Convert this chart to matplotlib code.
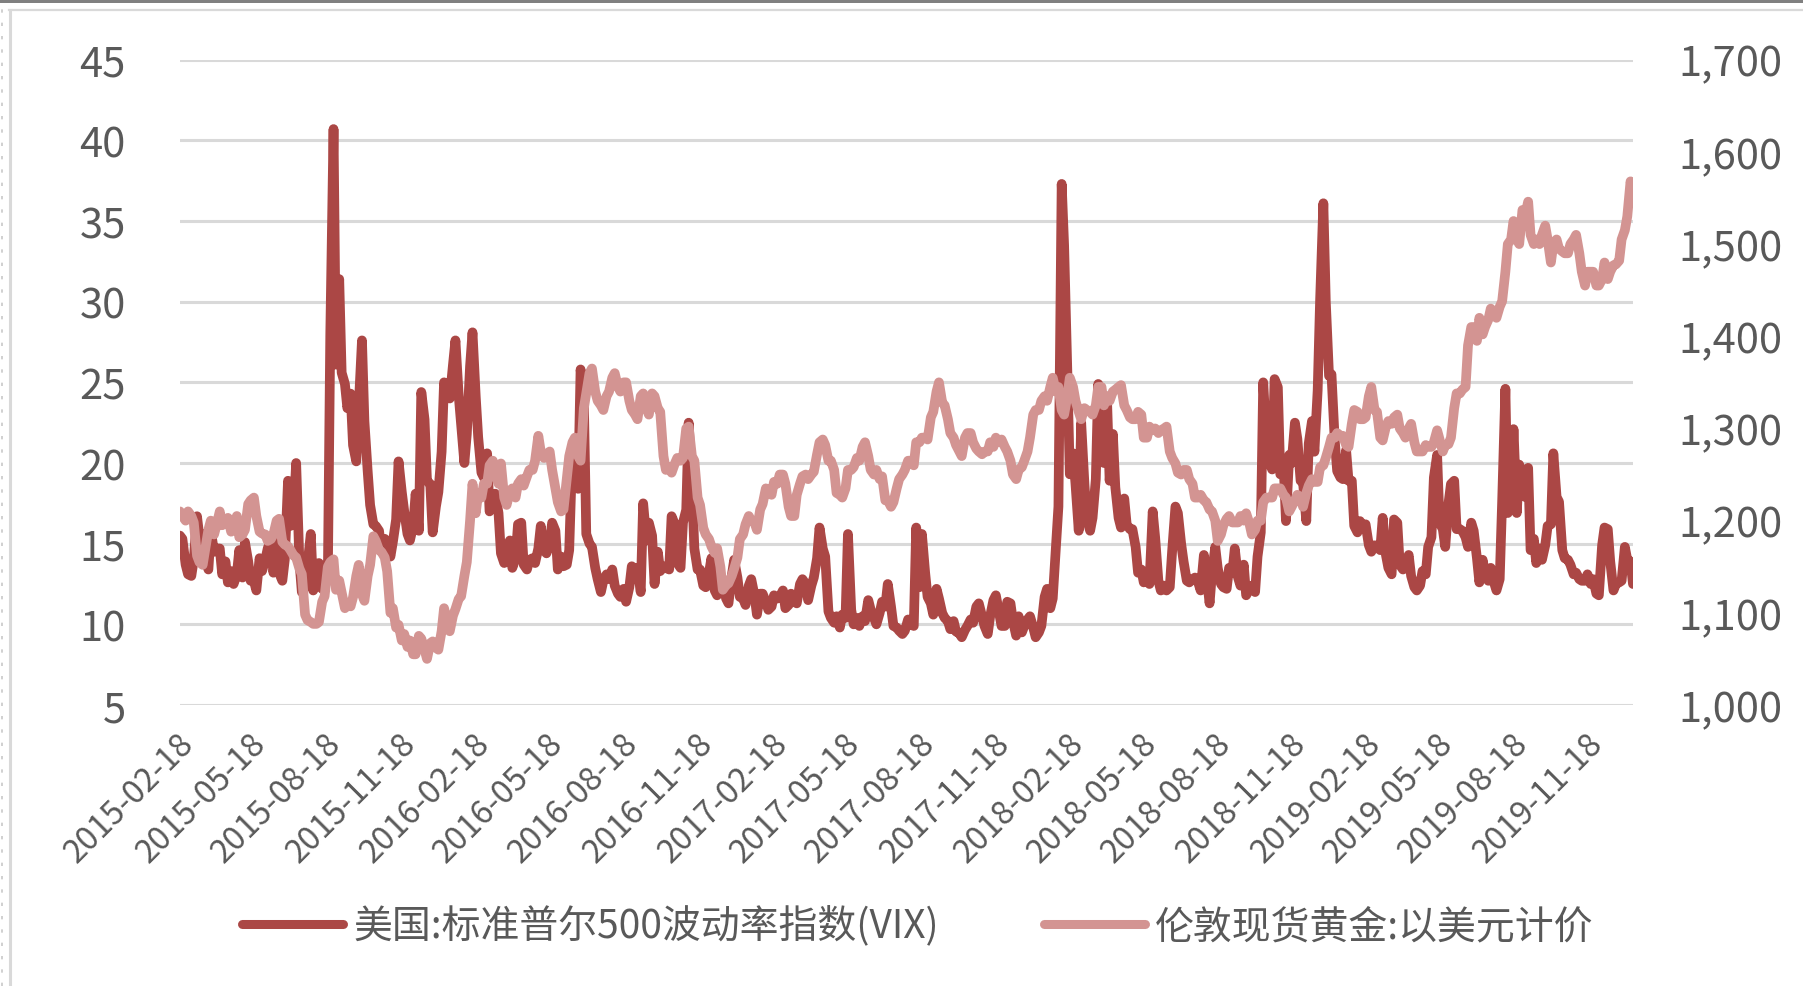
import matplotlib
matplotlib.use("Agg")
import matplotlib.pyplot as plt
from matplotlib.lines import Line2D
from matplotlib.patches import Rectangle
import matplotlib.transforms as mtransforms
import matplotlib.ticker as mticker
import pandas as pd

plt.rcParams['font.family'] = ['Noto Sans CJK SC', 'DejaVu Sans']

# two readings per week (Monday, Thursday), one list per year
vix_2015 = [15.5, 15.3, 13.7, 13.1, 13.0, 14.0, 16.7, 15.4, 15.6, 14.1, 13.4, 15.8, 14.5, 14.7, 14.7, 13.1,
            13.9, 12.6, 13.3, 12.5, 13.1, 14.6, 12.9, 15.1, 13.9, 12.7, 12.7, 12.1, 14.1, 13.3, 14.0, 14.7,
            15.3, 13.2, 15.4, 13.2, 12.7, 14.0, 18.9, 16.1, 17.0, 20.0, 13.9, 12.0, 12.3, 13.7, 15.6, 12.1,
            12.6, 13.8, 12.2, 13.5, 13.0, 28.0, 40.7, 26.1, 31.4, 25.6, 24.9, 23.4, 24.3, 21.1, 20.1, 23.5,
            27.6, 22.6, 19.5, 17.4, 16.2, 16.1, 15.8, 14.5, 15.3, 15.1, 14.2, 15.1, 16.5, 20.1, 18.2, 17.0,
            15.6, 15.2, 16.1, 18.1, 15.8, 24.4, 22.7, 18.9, 18.7, 15.7, 17.3, 18.2]
vix_2016 = [20.7, 25.0, 24.3, 24.0, 26.1, 27.6, 24.2, 22.4, 20.0, 21.8, 26.0, 28.1, 24.1, 21.6, 19.4, 19.1,
            20.6, 17.0, 17.4, 18.1, 16.9, 14.4, 13.8, 14.7, 15.2, 13.5, 14.1, 16.2, 16.3, 13.7, 13.4, 14.0,
            14.1, 13.8, 14.7, 16.1, 14.6, 14.4, 15.0, 16.3, 15.8, 13.4, 14.2, 13.6, 13.7, 14.6, 21.0, 19.4,
            18.4, 25.8, 23.9, 15.6, 15.0, 14.8, 13.5, 12.8, 12.0, 12.7, 13.1, 12.8, 13.4, 12.4, 11.9, 11.7,
            12.2, 11.4, 12.3, 13.6, 13.1, 13.5, 12.0, 17.5, 15.2, 16.3, 15.5, 12.5, 14.5, 13.3, 13.6, 13.5,
            13.4, 16.7, 16.2, 13.8, 13.5, 16.3, 17.1, 22.5, 18.7, 14.7, 13.4, 13.4, 12.4, 12.3, 13.2, 14.1,
            12.1, 11.8, 12.6, 12.8, 11.6, 11.3, 13.0, 14.0]
vix_2017 = [12.9, 11.7, 11.6, 11.2, 12.4, 12.8, 11.8, 10.6, 11.9, 11.9, 11.4, 10.9, 11.1, 11.8, 11.6, 11.7,
            12.1, 11.0, 11.2, 11.9, 11.4, 11.3, 12.5, 12.8, 12.5, 11.5, 12.4, 12.9, 14.1, 16.0, 14.7, 14.2,
            10.8, 10.4, 10.1, 10.5, 9.8, 10.6, 10.4, 15.6, 10.9, 10.0, 10.4, 9.9, 10.5, 10.2, 11.5, 10.9,
            10.4, 10.0, 10.7, 11.4, 11.1, 12.5, 11.1, 9.9, 9.8, 9.6, 9.4, 9.6, 10.3, 10.0, 9.9, 16.0,
            12.3, 15.6, 13.2, 11.7, 11.3, 10.6, 12.2, 11.6, 10.7, 10.4, 10.2, 9.7, 10.2, 9.55, 9.45, 9.2,
            9.65, 9.9, 10.3, 10.1, 11.1, 11.3, 10.5, 9.9, 9.4, 10.5, 11.5, 11.8, 10.7, 9.9, 9.9, 11.4,
            11.3, 10.2, 9.3, 10.5, 9.5, 9.9, 10.3, 10.5]
vix_2018 = [9.8, 9.2, 9.5, 9.9, 11.7, 12.2, 11.0, 11.6, 14.8, 17.3, 37.3, 33.5, 25.6, 19.3, 20.6, 18.7,
            15.8, 22.5, 18.7, 16.5, 15.8, 16.6, 19.0, 24.9, 21.0, 20.0, 23.6, 18.9, 21.8, 18.5, 16.6, 16.0,
            17.8, 16.2, 15.9, 15.9, 14.8, 13.2, 13.4, 12.6, 13.1, 12.5, 17.0, 15.4, 12.7, 12.1, 12.4, 12.1,
            12.3, 14.6, 17.3, 16.9, 15.0, 13.9, 12.7, 12.6, 12.8, 12.9, 12.6, 12.1, 14.3, 13.2, 11.3, 13.2,
            14.8, 13.5, 12.5, 12.3, 12.2, 13.5, 13.2, 14.7, 12.9, 12.4, 13.7, 11.8, 12.2, 12.4, 12.0, 14.2,
            15.7, 25.0, 21.3, 20.1, 19.6, 25.2, 24.7, 19.3, 20.0, 16.4, 20.5, 20.0, 22.5, 21.5, 18.9, 18.8,
            16.4, 21.2, 22.6, 20.7, 24.5, 30.1, 36.1, 30.0, 25.4, 25.5]
vix_2019 = [21.4, 19.5, 19.1, 19.0, 20.8, 18.9, 18.9, 16.1, 15.7, 16.4, 16.0, 16.2, 14.9, 14.5, 14.9, 14.8,
            14.6, 16.6, 14.3, 13.5, 13.1, 16.5, 16.3, 13.7, 13.4, 13.6, 14.3, 13.0, 12.3, 12.1, 12.4, 13.3,
            13.1, 14.8, 15.4, 19.1, 20.5, 16.3, 15.9, 14.8, 17.5, 18.7, 18.9, 15.9, 15.9, 15.8, 15.4, 14.8,
            16.3, 15.8, 14.1, 12.6, 14.0, 13.1, 12.7, 13.5, 12.6, 12.1, 12.8, 17.6, 24.6, 16.9, 17.5, 22.1,
            16.9, 19.9, 19.3, 17.9, 19.7, 14.6, 15.3, 13.8, 14.7, 14.0, 14.9, 16.1, 16.2, 20.6, 17.9, 17.6,
            14.6, 14.1, 14.0, 13.7, 13.1, 13.2, 12.8, 12.7, 12.7, 13.1, 12.5, 12.8, 11.9, 11.8, 14.9, 16.0,
            15.9, 13.9, 12.1, 12.5, 12.6, 12.7, 14.8, 14.0]
vix_2020 = [13.9, 12.5]

gold_2015 = [1210, 1205, 1200, 1210, 1205, 1198, 1162, 1155, 1152, 1168, 1190, 1200, 1185, 1195, 1210, 1195,
             1198, 1203, 1188, 1190, 1205, 1182, 1185, 1190, 1218, 1222, 1225, 1205, 1188, 1186, 1185, 1178,
             1180, 1185, 1200, 1202, 1177, 1174, 1172, 1168, 1162, 1160, 1148, 1142, 1098, 1092, 1090, 1088,
             1088, 1090, 1112, 1118, 1150, 1155, 1158, 1125, 1135, 1122, 1105, 1108, 1107, 1117, 1140, 1152,
             1120, 1113, 1140, 1152, 1183, 1178, 1168, 1166, 1160, 1145, 1100, 1105, 1084, 1087, 1070, 1077,
             1063, 1070, 1055, 1055, 1075, 1072, 1060, 1050, 1067, 1069, 1062, 1060]
gold_2016 = [1080, 1105, 1090, 1080, 1097, 1104, 1115, 1118, 1140, 1155, 1200, 1240, 1208, 1230, 1225, 1240,
             1240, 1260, 1265, 1250, 1240, 1262, 1225, 1217, 1232, 1235, 1225, 1240, 1245, 1238, 1248, 1255,
             1255, 1265, 1292, 1275, 1268, 1272, 1275, 1255, 1235, 1220, 1210, 1212, 1245, 1270, 1285, 1290,
             1270, 1265, 1322, 1338, 1360, 1365, 1340, 1330, 1325, 1320, 1335, 1340, 1355, 1360, 1345, 1340,
             1350, 1350, 1330, 1320, 1315, 1310, 1335, 1338, 1322, 1315, 1338, 1335, 1322, 1318, 1270, 1255,
             1258, 1252, 1262, 1268, 1265, 1268, 1300, 1302, 1270, 1265, 1225, 1217, 1192, 1185, 1180, 1172,
             1165, 1170, 1150, 1125, 1130, 1132, 1140, 1148]
gold_2017 = [1160, 1180, 1185, 1196, 1205, 1200, 1198, 1190, 1212, 1218, 1235, 1232, 1228, 1242, 1240, 1250,
             1250, 1240, 1215, 1205, 1205, 1228, 1240, 1248, 1250, 1245, 1250, 1253, 1272, 1285, 1288, 1282,
             1265, 1265, 1255, 1230, 1228, 1225, 1235, 1255, 1255, 1258, 1268, 1265, 1280, 1285, 1270, 1255,
             1250, 1255, 1245, 1248, 1222, 1222, 1215, 1220, 1235, 1245, 1250, 1255, 1265, 1265, 1260, 1285,
             1285, 1290, 1290, 1288, 1312, 1318, 1340, 1350, 1328, 1325, 1310, 1295, 1290, 1282, 1275, 1270,
             1290, 1295, 1295, 1285, 1278, 1275, 1272, 1275, 1275, 1285, 1280, 1290, 1285, 1288, 1280, 1275,
             1265, 1250, 1245, 1255, 1258, 1265, 1275, 1290]
gold_2018 = [1315, 1320, 1320, 1330, 1335, 1330, 1345, 1355, 1340, 1345, 1320, 1315, 1335, 1355, 1345, 1330,
             1318, 1310, 1322, 1320, 1318, 1315, 1325, 1345, 1345, 1325, 1335, 1330, 1340, 1342, 1345, 1347,
             1325, 1320, 1312, 1310, 1310, 1318, 1315, 1290, 1290, 1302, 1298, 1300, 1295, 1298, 1300, 1302,
             1275, 1268, 1262, 1252, 1250, 1255, 1255, 1245, 1240, 1225, 1225, 1228, 1222, 1220, 1212, 1210,
             1200, 1178, 1185, 1195, 1202, 1205, 1198, 1198, 1198, 1205, 1200, 1208, 1197, 1185, 1190, 1200,
             1200, 1220, 1225, 1225, 1225, 1235, 1235, 1235, 1228, 1225, 1210, 1215, 1222, 1228, 1225, 1215,
             1230, 1238, 1245, 1242, 1242, 1258, 1260, 1268, 1280, 1290]
gold_2019 = [1290, 1295, 1292, 1292, 1282, 1280, 1305, 1320, 1318, 1310, 1310, 1312, 1335, 1345, 1320, 1318,
             1290, 1287, 1302, 1308, 1305, 1312, 1315, 1300, 1295, 1290, 1300, 1305, 1285, 1275, 1275, 1275,
             1282, 1280, 1280, 1285, 1298, 1288, 1275, 1282, 1283, 1290, 1322, 1338, 1338, 1342, 1345, 1390,
             1410, 1410, 1395, 1420, 1402, 1410, 1418, 1430, 1425, 1420, 1432, 1438, 1470, 1500, 1505, 1525,
             1505, 1500, 1537, 1530, 1546, 1510, 1500, 1505, 1500, 1510, 1520, 1505, 1480, 1500, 1505, 1495,
             1492, 1490, 1490, 1500, 1505, 1510, 1490, 1470, 1455, 1470, 1470, 1470, 1455, 1455, 1462, 1480,
             1462, 1470, 1477, 1478, 1482, 1505, 1515, 1530]
gold_2020 = [1568, 1555]

year_starts = ['2015-02-16', '2016-01-04', '2017-01-02', '2018-01-01', '2019-01-07', '2020-01-06']
vix_years = [vix_2015, vix_2016, vix_2017, vix_2018, vix_2019, vix_2020]
gold_years = [gold_2015, gold_2016, gold_2017, gold_2018, gold_2019, gold_2020]

tick_labels = ['2015-02-18', '2015-05-18', '2015-08-18', '2015-11-18', '2016-02-18', '2016-05-18',
               '2016-08-18', '2016-11-18', '2017-02-18', '2017-05-18', '2017-08-18', '2017-11-18',
               '2018-02-18', '2018-05-18', '2018-08-18', '2018-11-18', '2019-02-18', '2019-05-18',
               '2019-08-18', '2019-11-18']

vix_name = '美国:标准普尔500波动率指数(VIX)'
gold_name = '伦敦现货黄金:以美元计价'


def twice_weekly(starts, years):
    out_d, out_v = [], []
    for start, vals in zip(starts, years):
        s = pd.Timestamp(start)
        out_d += [s + pd.Timedelta(days=7 * (i // 2) + 3 * (i % 2)) for i in range(len(vals))]
        out_v += vals
    return out_d, out_v


vix_dates, vix = twice_weekly(year_starts, vix_years)
gold_dates, gold = twice_weekly(year_starts, gold_years)

c_vix = '#AB4745'
c_gold = '#D39492'
c_text = '#595959'

fig = plt.figure(figsize=(18.03, 9.87), dpi=100)
ax = fig.add_axes([0.0998, 0.2847, 0.8059, 0.6538])
ax2 = ax.twinx()

ax.plot(vix_dates, vix, color=c_vix, lw=7.0, solid_joinstyle='round', solid_capstyle='round')
ax2.plot(gold_dates, gold, color=c_gold, lw=7.0, solid_joinstyle='round', solid_capstyle='round')

ax.set_ylim(5, 45)
ax.set_yticks(range(5, 46, 5))
ax2.set_ylim(1000, 1700)
ax2.set_yticks(range(1000, 1701, 100))
ax2.yaxis.set_major_formatter(mticker.FuncFormatter(lambda v, p: f'{int(v):,}'))
ax.set_xlim(vix_dates[0], vix_dates[-1])

ax.grid(axis='y', color='#D9D9D9', lw=2.2)
ax.set_axisbelow(True)
for a in (ax, ax2):
    for s in a.spines.values():
        s.set_visible(False)

ax.set_xticks(pd.to_datetime(tick_labels))
ax.set_xticklabels(tick_labels, rotation=45, ha='right', va='center', rotation_mode='anchor')
ax.tick_params(axis='x', length=0, pad=24, labelsize=23.5, labelcolor=c_text)
ax.tick_params(axis='y', length=0, pad=39, labelsize=30, labelcolor=c_text)
ax2.tick_params(axis='y', length=0, pad=33, labelsize=30, labelcolor=c_text)
shift = mtransforms.ScaledTranslation(0.07, 0, fig.dpi_scale_trans)
for lab in ax.get_xticklabels():
    lab.set_transform(lab.get_transform() + shift)

handles = [Line2D([], [], color=c_vix, lw=6.5, solid_capstyle='round'),
           Line2D([], [], color=c_gold, lw=6.5, solid_capstyle='round')]
leg = fig.legend(handles, [vix_name, gold_name], loc='center', bbox_to_anchor=(0.509, 0.061), ncol=2,
                 frameon=False, fontsize=28, handlelength=2.6, handletextpad=0.25, columnspacing=2.7)
for t in leg.get_texts():
    t.set_color(c_text)

# screenshot frame: dark top strip and light chart border
fig.add_artist(Rectangle((0, 1 - 4 / 987), 1, 4 / 987, transform=fig.transFigure, color='#808080', lw=0))
fig.add_artist(Line2D([9 / 1803, 1], [1 - 11 / 987] * 2, transform=fig.transFigure, color='#D9D9D9', lw=1.6))
fig.add_artist(Line2D([10 / 1803] * 2, [0, 1 - 11 / 987], transform=fig.transFigure, color='#D9D9D9', lw=2.2))
fig.add_artist(Line2D([2 / 1803] * 2, [0, 1 - 5 / 987], transform=fig.transFigure, color='#C8C8C8', lw=1.2,
                      ls=(0, (2, 6))))

fig.savefig('out.png', dpi=100)
